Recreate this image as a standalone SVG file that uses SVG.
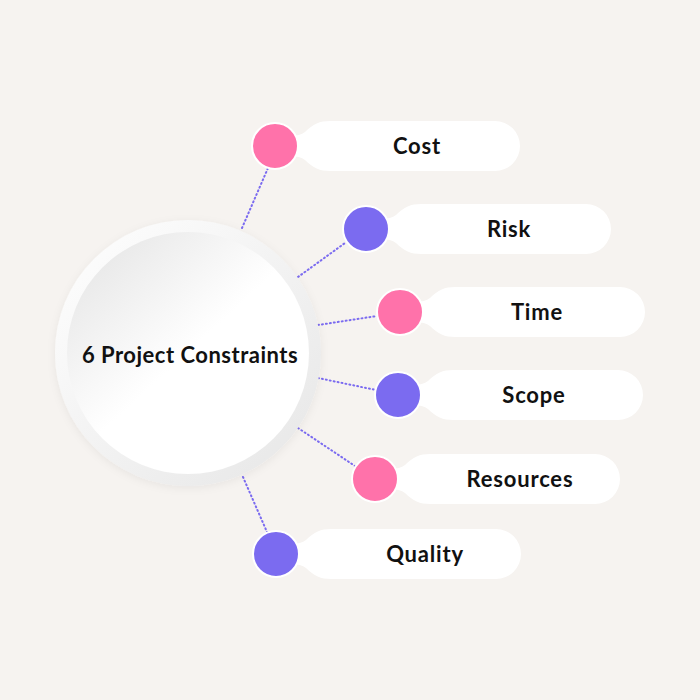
<svg xmlns="http://www.w3.org/2000/svg" width="700" height="700" viewBox="0 0 700 700">
<defs>
<linearGradient id="ring" x1="0" y1="0" x2="1" y2="1">
<stop offset="0" stop-color="#ffffff"/>
<stop offset="1" stop-color="#e6e6e6"/>
</linearGradient>
<linearGradient id="inner" x1="0.15" y1="0.1" x2="0.75" y2="0.75">
<stop offset="0" stop-color="#e9e9e9"/>
<stop offset="0.6" stop-color="#ffffff"/>
<stop offset="1" stop-color="#ffffff"/>
</linearGradient>
<filter id="sh" x="-20%" y="-20%" width="140%" height="140%">
<feDropShadow dx="0" dy="2" stdDeviation="4" flood-color="#000" flood-opacity="0.06"/>
</filter>
<path id="pill" d="M 15,-10 Q 25,-10 30,-14 C 38,-22 45,-25 55,-25 L 220,-25 A 25 25 0 0 1 220,25 L 55,25 C 45,25 38,22 30,14 Q 25,10 15,10 Z"/>
</defs>
<style>
.lbl{font-family:Lato,"Noto Sans",sans-serif;font-weight:700;font-size:22px;letter-spacing:0.8px;fill:#111;text-anchor:middle}
.pk{fill:#ff72aa;stroke:#fff;stroke-width:2}
.pu{fill:#7b6bf0;stroke:#fff;stroke-width:2}
.con line{stroke:#7b6bf0;stroke-width:2;stroke-dasharray:1 3;stroke-linecap:round}
.bg{fill:#fff}
</style>
<rect width="700" height="700" fill="#f6f3f0"/>
<g id="connectors" class="con">
<line x1="242" y1="228" x2="268" y2="168"/>
<line x1="298" y1="277" x2="345" y2="243"/>
<line x1="318" y1="325" x2="377" y2="316"/>
<line x1="318" y1="378" x2="376" y2="390"/>
<line x1="298" y1="428" x2="355" y2="466"/>
<line x1="243" y1="477" x2="267" y2="532"/>
</g>
<g id="center">
<circle cx="188" cy="353" r="133" fill="url(#ring)" filter="url(#sh)"/>
<circle cx="188" cy="353" r="121" fill="url(#inner)"/>
<text x="190" y="363" class="lbl" style="letter-spacing:0.5px">6 Project Constraints</text>
</g>
<g id="cost" transform="translate(275,146)">
<use href="#pill" class="bg"/>
<circle r="23" class="pk"/>
<text x="142" y="8" class="lbl">Cost</text>
</g>
<g id="risk" transform="translate(366,229)">
<use href="#pill" class="bg"/>
<circle r="23" class="pu"/>
<text x="143" y="8" class="lbl">Risk</text>
</g>
<g id="time" transform="translate(400,312)">
<use href="#pill" class="bg"/>
<circle r="23" class="pk"/>
<text x="137" y="8" class="lbl">Time</text>
</g>
<g id="scope" transform="translate(398,395)">
<use href="#pill" class="bg"/>
<circle r="23" class="pu"/>
<text x="136" y="8" class="lbl">Scope</text>
</g>
<g id="resources" transform="translate(375,479)">
<use href="#pill" class="bg"/>
<circle r="23" class="pk"/>
<text x="145" y="8" class="lbl">Resources</text>
</g>
<g id="quality" transform="translate(276,554)">
<use href="#pill" class="bg"/>
<circle r="23" class="pu"/>
<text x="149" y="8" class="lbl">Quality</text>
</g>
</svg>
